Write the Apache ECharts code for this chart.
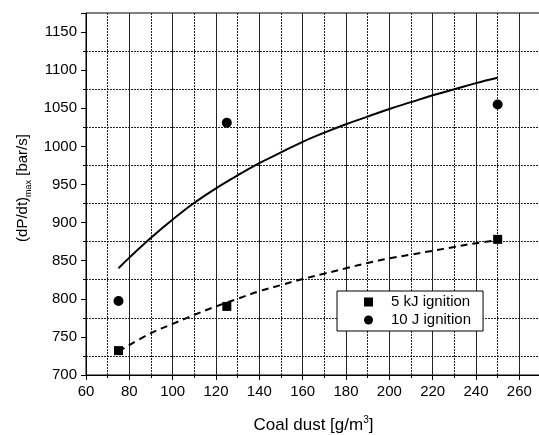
<!DOCTYPE html>
<html>
<head>
<meta charset="utf-8">
<script src="https://cdn.jsdelivr.net/npm/echarts@6/dist/echarts.min.js"></script>
<style>
  html, body { margin: 0; padding: 0; background: #fff; }
  #chart { width: 539px; height: 435px; }
</style>
</head>
<body>
<div id="chart"></div>
<script>
// Measured data
var kJ5X = [75, 125, 250];
var kJ5Y = [732, 790, 878];
var J10X = [75, 125, 250];
var J10Y = [797, 1031, 1055];

// Fit curves
var fit10X = [75, 80, 90, 100, 110, 120, 130, 140, 150, 160, 170, 180, 190, 200, 210, 220, 230, 240, 250];
var fit10Y = [840, 854, 880, 904, 926, 945, 962, 978, 992, 1006, 1018, 1029, 1039, 1049, 1058, 1067, 1075, 1083, 1090];
var fit5X = [75, 90, 100, 110, 120, 130, 140, 150, 160, 170, 180, 190, 200, 210, 220, 230, 240, 250];
var fit5Y = [731, 755, 767, 779, 790, 800, 810, 818, 826, 833, 840, 847, 853, 858, 863, 868, 873, 877];

var seriesNames = ['5 kJ ignition', '10 J ignition'];

function zip(xs, ys) { return xs.map(function (x, i) { return [x, ys[i]]; }); }

var chart = echarts.init(document.getElementById('chart'), null, { renderer: 'canvas' });
var FONT = 'Liberation Sans, Arial, sans-serif';
var gridColor = '#222';

chart.setOption({
  animation: false,
  backgroundColor: '#fff',
  textStyle: { fontFamily: FONT, color: '#000' },
  grid: {
    left: 86, top: 13, width: 455, height: 362,
    containLabel: false,
    outerBoundsMode: 'none',
    show: true, borderColor: '#000', borderWidth: 1, backgroundColor: 'transparent'
  },
  legend: {
    orient: 'vertical',
    left: 337, top: 291,
    padding: [3, 12, 3, 27],
    itemGap: 2,
    itemWidth: 9, itemHeight: 9,
    borderColor: '#000', borderWidth: 1,
    backgroundColor: '#fff',
    textStyle: { fontFamily: FONT, fontSize: 15, color: '#000', lineHeight: 16, padding: [0, 0, 0, 13] },
    data: [
      { name: seriesNames[0], icon: 'rect' },
      { name: seriesNames[1], icon: 'circle' }
    ]
  },
  xAxis: {
    type: 'value',
    min: 60, max: 270, interval: 20,
    name: 'Coal dust [g/m{sup|3}]',
    nameLocation: 'middle',
    nameGap: 40,
    nameTextStyle: {
      fontFamily: FONT, fontSize: 17, color: '#000', lineHeight: 20,
      rich: { sup: { fontFamily: FONT, fontSize: 10, color: '#000', verticalAlign: 'top', lineHeight: 10 } }
    },
    axisLine: { show: true, onZero: false, lineStyle: { color: '#000', width: 1 } },
    axisTick: { show: true, inside: false, length: 5, lineStyle: { color: '#000' } },
    minorTick: { show: true, splitNumber: 2, length: 3, lineStyle: { color: '#000' } },
    axisLabel: { fontFamily: FONT, fontSize: 15, color: '#000', margin: 9,
      formatter: function (v) { return v % 20 === 0 && v <= 260 ? String(v) : ''; } },
    splitLine: { show: true, lineStyle: { color: gridColor, width: 1, type: 'solid' } },
    minorSplitLine: { show: true, lineStyle: { color: gridColor, width: 1, type: [2, 1] } }
  },
  yAxis: {
    type: 'value',
    min: 700, max: 1175, interval: 50,
    name: '(dP/dt){sub|max} [bar/s]',
    nameLocation: 'middle',
    nameGap: 42,
    nameTextStyle: {
      fontFamily: FONT, fontSize: 15, color: '#000', lineHeight: 20,
      padding: [0, 0, 0, 12],
      rich: { sub: { fontFamily: FONT, fontSize: 9, color: '#000', verticalAlign: 'bottom', lineHeight: 9 } }
    },
    axisLine: { show: true, onZero: false, lineStyle: { color: '#000', width: 1 } },
    axisTick: { show: true, inside: false, length: 5, lineStyle: { color: '#000' } },
    minorTick: { show: true, splitNumber: 2, length: 3, lineStyle: { color: '#000' } },
    axisLabel: { fontFamily: FONT, fontSize: 15, color: '#000', margin: 9,
      formatter: function (v) { return v % 50 === 0 && v <= 1150 ? String(v) : ''; } },
    splitLine: { show: false },
    minorSplitLine: { show: true, lineStyle: { color: gridColor, width: 1, type: [2, 1] } }
  },
  series: [
    {
      name: 'fit10', type: 'line', data: zip(fit10X, fit10Y), smooth: 0.4,
      showSymbol: false, symbol: 'none', silent: true,
      lineStyle: { color: '#000', width: 2, type: 'solid' }, z: 3
    },
    {
      name: 'fit5', type: 'line', data: zip(fit5X, fit5Y), smooth: 0.4,
      showSymbol: false, symbol: 'none', silent: true,
      lineStyle: { color: '#000', width: 2, type: [7, 5] }, z: 3
    },
    {
      name: seriesNames[0], type: 'scatter', data: zip(kJ5X, kJ5Y),
      symbol: 'rect', symbolSize: 9,
      itemStyle: { color: '#000', opacity: 1 }, z: 4
    },
    {
      name: seriesNames[1], type: 'scatter', data: zip(J10X, J10Y),
      symbol: 'circle', symbolSize: 10,
      itemStyle: { color: '#000', opacity: 1 }, z: 4
    }
  ]
});
</script>
</body>
</html>
